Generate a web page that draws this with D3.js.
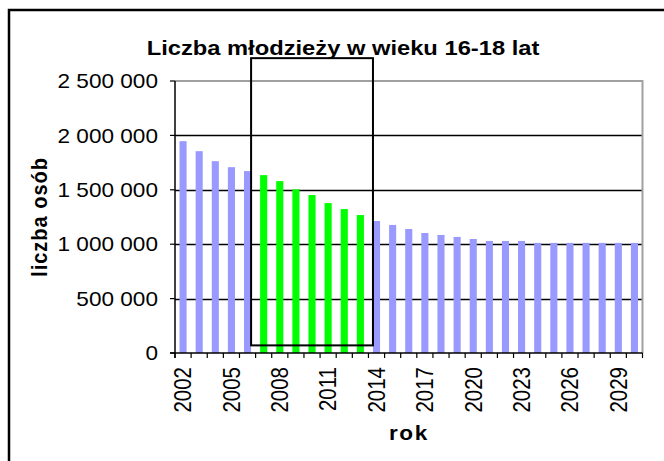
<!DOCTYPE html>
<html>
<head>
<meta charset="utf-8">
<script src="https://cdn.jsdelivr.net/npm/d3@7"></script>
<style>
  body { margin: 0; background: #fff; }
  text { font-family: Arial, "Liberation Sans", sans-serif; }
</style>
</head>
<body>
<div id="chart"></div>
<script>
// data
var years = [2002, 2003, 2004, 2005, 2006, 2007, 2008, 2009, 2010, 2011,
             2012, 2013, 2014, 2015, 2016, 2017, 2018, 2019, 2020, 2021,
             2022, 2023, 2024, 2025, 2026, 2027, 2028, 2029, 2030];
var youth = [1947000, 1855000, 1763000, 1708000, 1672000, 1635000, 1580000, 1505000, 1452000, 1378000,
             1323000, 1268000, 1213000, 1177000, 1140000, 1103000, 1085000, 1067000, 1048000, 1030000,
             1030000, 1030000, 1012000, 1012000, 1012000, 1012000, 1012000, 1012000, 1012000];
var highlightYears = [2007, 2008, 2009, 2010, 2011, 2012, 2013];
var yTicks = [0, 500000, 1000000, 1500000, 2000000, 2500000];
var xLabels = [2002, 2005, 2008, 2011, 2014, 2017, 2020, 2023, 2026, 2029];
// box drawn over the chart (value range it covers)
var boxValues = [70000, 2710000];

var title = "Liczba młodzieży w wieku 16-18 lat";
var yTitle = "liczba osób";
var xTitle = "rok";

var W = 664, H = 461;
var margin = {top: 81, right: 21.5, bottom: 108, left: 175};
var width = W - margin.left - margin.right,
    height = H - margin.top - margin.bottom;
var sx = 1.13; // text looks a little stretched sideways

var svg = d3.select("#chart").append("svg")
    .attr("width", W)
    .attr("height", H);

// outer frame of the pasted chart (only left and top inside the picture)
svg.append("path")
    .attr("d", "M9," + (H + 5) + "V10H" + (W + 5))
    .attr("fill", "none")
    .attr("stroke", "#000")
    .attr("stroke-width", 2.5);

var g = svg.append("g")
    .attr("transform", "translate(" + margin.left + "," + margin.top + ")");

var x = d3.scaleBand()
    .domain(years)
    .range([0, width])
    .paddingInner(0.56)
    .paddingOuter(0.28);
var y = d3.scaleLinear()
    .domain([0, 2500000])
    .range([height, 0]);

// grid lines
g.selectAll(".grid")
    .data(yTicks.slice(1, -1))
    .enter().append("line")
    .attr("x1", 0)
    .attr("x2", width)
    .attr("y1", d => Math.round(y(d)) + 0.5)
    .attr("y2", d => Math.round(y(d)) + 0.5)
    .attr("stroke", "#000")
    .attr("stroke-width", 1.3);

// plot area border, top and right in grey
g.append("path")
    .attr("d", "M0," + y(2500000) + "H" + width + "V" + height)
    .attr("fill", "none")
    .attr("stroke", "#a0a0a0")
    .attr("stroke-width", 2);

// bars
g.selectAll(".bar")
    .data(years)
    .enter().append("rect")
    .attr("class", "bar")
    .attr("x", d => x(d))
    .attr("width", x.bandwidth())
    .attr("y", (d, i) => y(youth[i]))
    .attr("height", (d, i) => height - y(youth[i]))
    .attr("fill", d => highlightYears.indexOf(d) >= 0 ? "#00ff00" : "#9999ff");

// x axis: ticks between categories
var step = x.step();
var xTickPos = d3.range(years.length + 1).map(i => i * step);
g.append("line")
    .attr("x1", -5).attr("x2", width)
    .attr("y1", height).attr("y2", height)
    .attr("stroke", "#000").attr("stroke-width", 1.5);
g.selectAll(".xtick")
    .data(xTickPos)
    .enter().append("line")
    .attr("x1", d => d).attr("x2", d => d)
    .attr("y1", height).attr("y2", height + 5)
    .attr("stroke", "#000").attr("stroke-width", 1.2);

// y axis
g.append("line")
    .attr("x1", 0).attr("x2", 0)
    .attr("y1", y(2500000)).attr("y2", height + 5)
    .attr("stroke", "#000").attr("stroke-width", 1.5);
g.selectAll(".ytick")
    .data(yTicks)
    .enter().append("line")
    .attr("x1", -5).attr("x2", 0)
    .attr("y1", d => y(d)).attr("y2", d => y(d))
    .attr("stroke", "#000").attr("stroke-width", 1.2);

var fmt = d => d3.format(",")(d).replace(/,/g, "\u00a0");
g.selectAll(".ylabel")
    .data(yTicks)
    .enter().append("text")
    .attr("transform", d => "translate(-17," + y(d) + ") scale(" + sx + ",1)")
    .attr("dy", "0.36em")
    .attr("text-anchor", "end")
    .attr("font-size", 20)
    .attr("fill", "#000")
    .text(fmt);

g.selectAll(".xlabel")
    .data(xLabels)
    .enter().append("text")
    .attr("transform", d => "translate(" + (x(d) + x.bandwidth() / 2) + "," + (height + 14) + ") scale(" + sx + ",1) rotate(-90)")
    .attr("dy", "0.36em")
    .attr("text-anchor", "end")
    .attr("font-size", 20.5)
    .attr("fill", "#000")
    .text(d => d);

// highlight box over 2007-2013
var boxLeft = x(highlightYears[0] - 1) + x.bandwidth();
var boxRight = x(highlightYears[highlightYears.length - 1] + 1);
g.append("rect")
    .attr("x", boxLeft)
    .attr("y", y(boxValues[1]))
    .attr("width", boxRight - boxLeft)
    .attr("height", y(boxValues[0]) - y(boxValues[1]))
    .attr("fill", "none")
    .attr("stroke", "#000")
    .attr("stroke-width", 2);

// titles
svg.append("text")
    .attr("transform", "translate(343,55) scale(" + sx + ",1)")
    .attr("text-anchor", "middle")
    .attr("font-size", 21)
    .attr("font-weight", "bold")
    .text(title);

svg.append("text")
    .attr("transform", "translate(409,440) scale(" + sx + ",1)")
    .attr("text-anchor", "middle")
    .attr("font-size", 20)
    .attr("font-weight", "bold")
    .attr("letter-spacing", 1.5)
    .text(xTitle);

svg.append("text")
    .attr("transform", "translate(39,217) scale(" + sx + ",1) rotate(-90)")
    .attr("text-anchor", "middle")
    .attr("dy", "0.36em")
    .attr("font-size", 20)
    .attr("font-weight", "bold")
    .attr("letter-spacing", 1)
    .text(yTitle);
</script>
</body>
</html>
